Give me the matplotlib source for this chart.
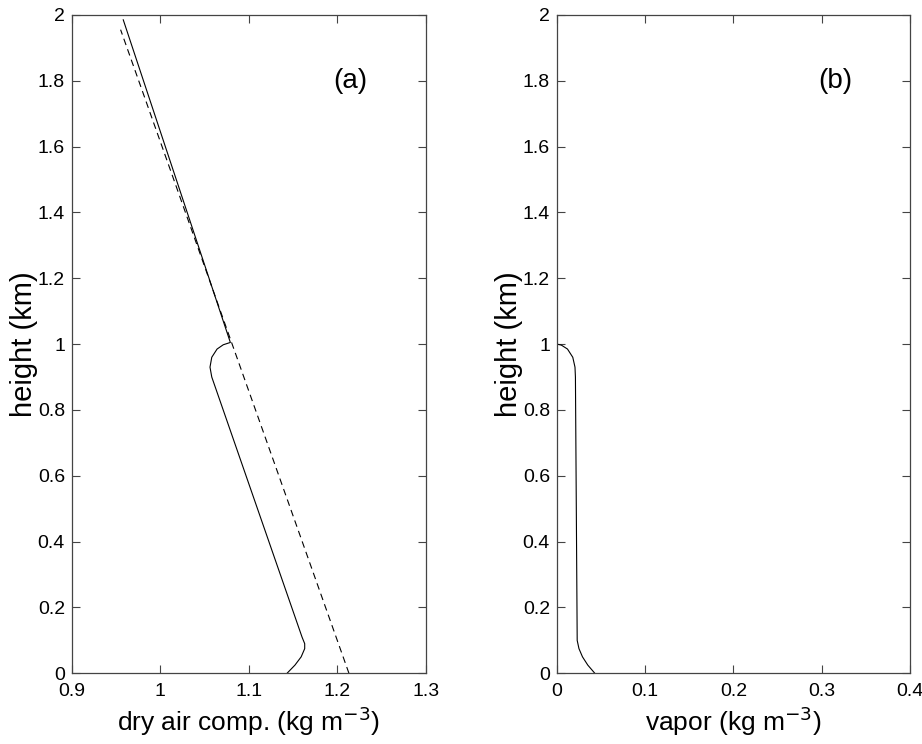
"""Dry air and vapor density profiles, two panels."""

import matplotlib
matplotlib.use("Agg")
import matplotlib.pyplot as plt

plt.rcParams["font.family"] = ["Liberation Sans", "DejaVu Sans"]

# panel (a): dry air component, solid = perturbed, dashed = reference
dry_rho = [1.143, 1.152, 1.159, 1.163, 1.163, 1.160, 1.058, 1.056, 1.058,
           1.064, 1.071, 1.079, 0.958]
dry_z = [0.0, 0.025, 0.05, 0.075, 0.09, 0.11, 0.90, 0.93, 0.96,
         0.985, 0.998, 1.005, 1.985]
ref_rho = [1.213, 0.955]
ref_z = [0.0, 1.955]

# panel (b): vapor
vap_rho = [0.043, 0.035, 0.029, 0.025, 0.023, 0.022, 0.021, 0.0205, 0.018,
           0.012, 0.005, 0.0, 0.0]
vap_z = [0.0, 0.025, 0.05, 0.075, 0.1, 0.5, 0.9, 0.93, 0.96,
         0.985, 0.997, 1.0, 2.0]

fig = plt.figure(figsize=(9.22, 7.44), dpi=100)
ax_a = fig.add_axes([0.078, 0.095, 0.384, 0.885])
ax_b = fig.add_axes([0.604, 0.095, 0.383, 0.885])

ax_a.plot(dry_rho, dry_z, color="black", lw=0.8)
ax_a.plot(ref_rho, ref_z, color="black", lw=0.8, dashes=(6, 4))
ax_a.set_xlim(0.9, 1.3)
ax_a.set_xticks([0.9, 1.0, 1.1, 1.2, 1.3])
ax_a.set_xticklabels(["0.9", "1", "1.1", "1.2", "1.3"])
ax_a.set_xlabel("dry air comp. (kg m$^{-3}$)", fontsize=19, labelpad=3)
ax_a.text(1.214, 1.80, "(a)", fontsize=20, ha="center", va="center")

ax_b.plot(vap_rho, vap_z, color="black", lw=0.8)
ax_b.set_xlim(0, 0.4)
ax_b.set_xticks([0, 0.1, 0.2, 0.3, 0.4])
ax_b.set_xticklabels(["0", "0.1", "0.2", "0.3", "0.4"])
ax_b.set_xlabel("vapor (kg m$^{-3}$)", fontsize=19, labelpad=3)
ax_b.text(0.315, 1.80, "(b)", fontsize=20, ha="center", va="center")

yt = [0, 0.2, 0.4, 0.6, 0.8, 1.0, 1.2, 1.4, 1.6, 1.8, 2.0]
ylab = ["0", "0.2", "0.4", "0.6", "0.8", "1", "1.2", "1.4", "1.6", "1.8", "2"]
for ax in (ax_a, ax_b):
    ax.set_ylim(0, 2)
    ax.set_yticks(yt)
    ax.set_yticklabels(ylab)
    ax.set_ylabel("height (km)", fontsize=21, labelpad=0)
    ax.tick_params(direction="in", length=6, width=0.8, color="#444444",
                   labelsize=14, top=True, right=True)
    ax.tick_params(axis="x", pad=7)
    ax.tick_params(axis="y", pad=5)
    for s in ax.spines.values():
        s.set_color("#444444")
        s.set_linewidth(0.9)

fig.savefig("out.png", dpi=100)
